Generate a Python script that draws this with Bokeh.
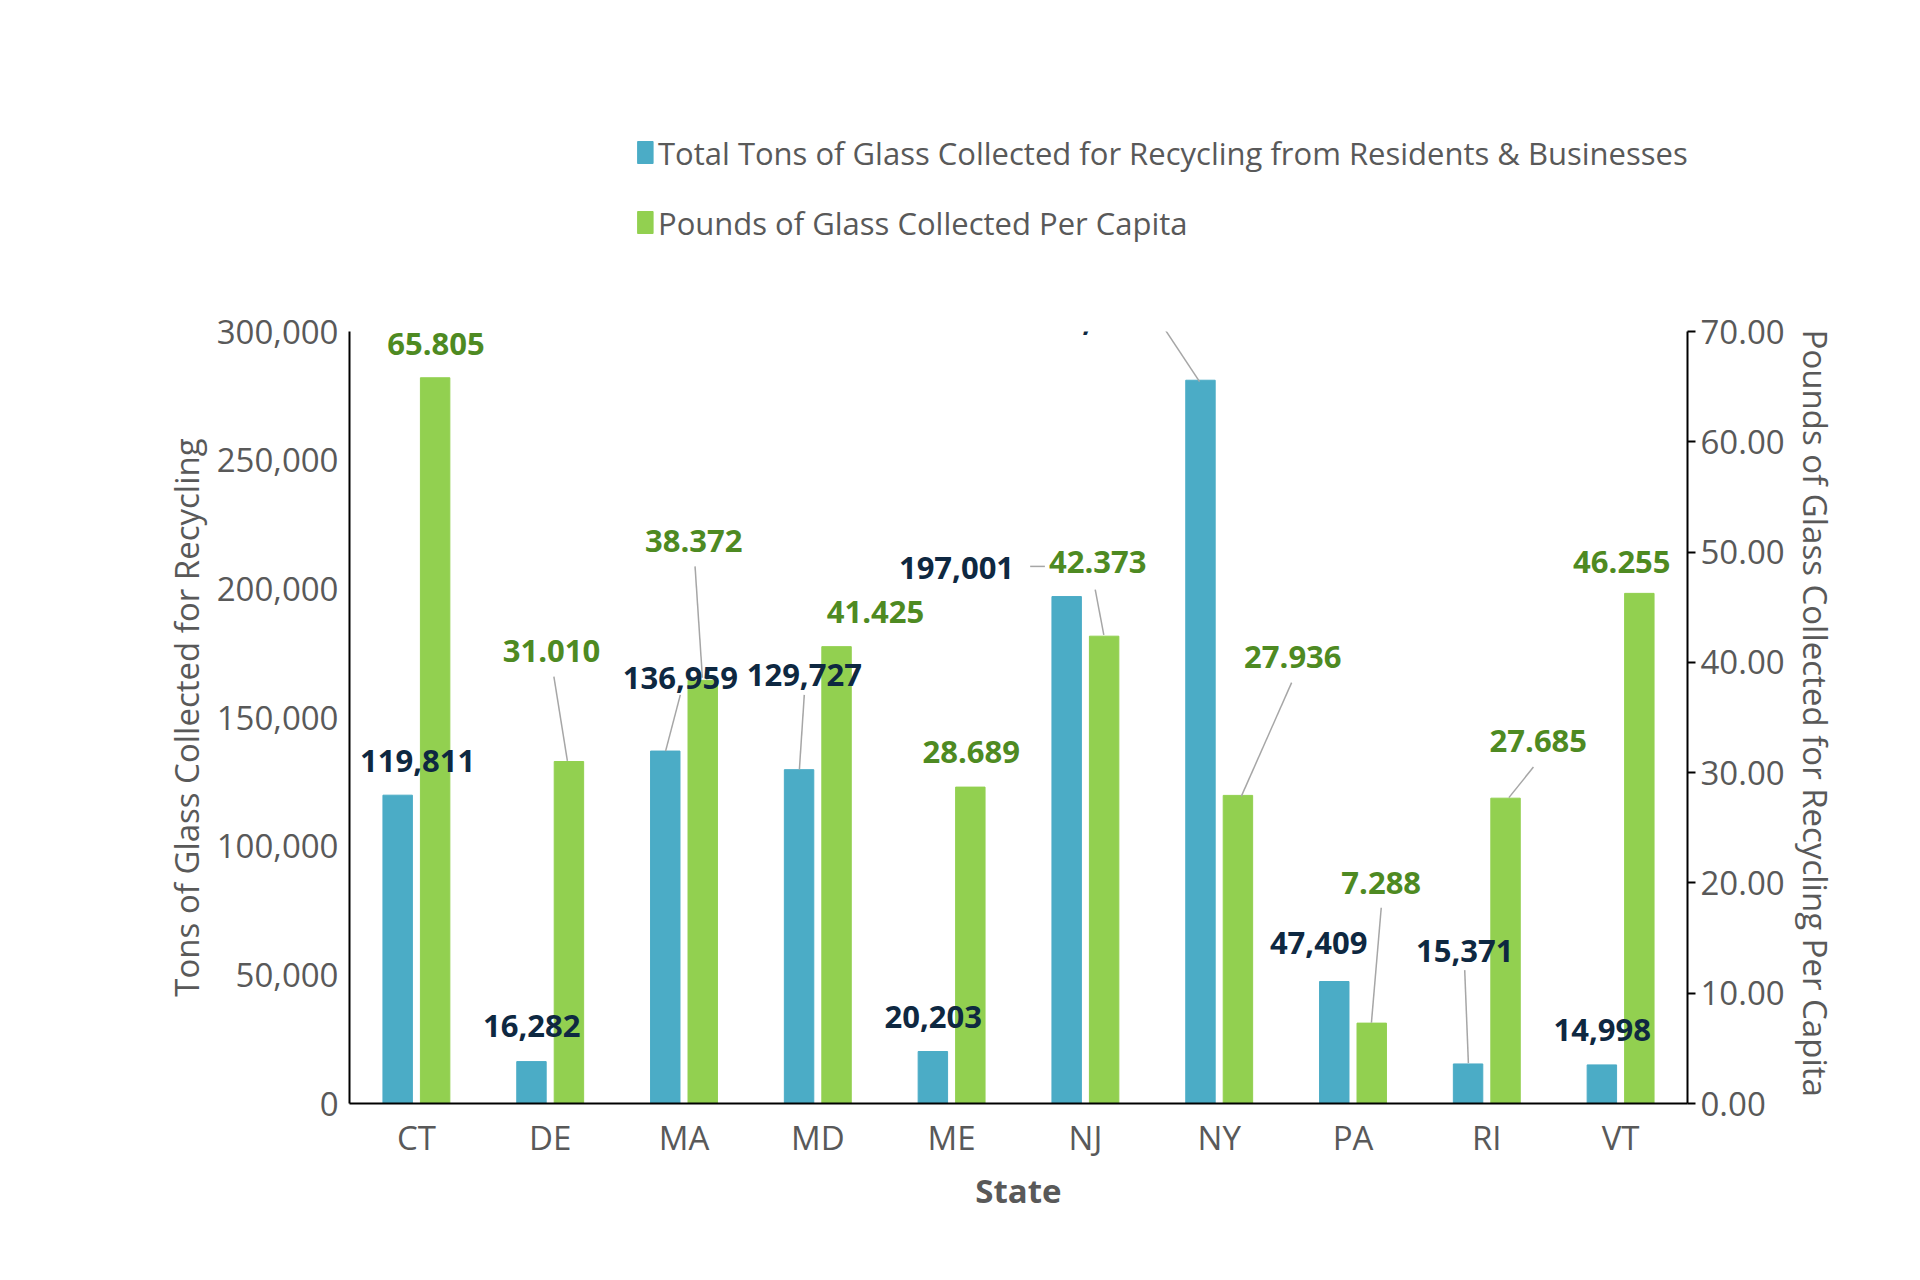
from bokeh.plotting import figure
from bokeh.layouts import column
from bokeh.models import (ColumnDataSource, Range1d, LinearAxis, NumeralTickFormatter,
                          FixedTicker, LabelSet, Arrow)
from bokeh.core.properties import value
from bokeh.embed import file_html
from bokeh.resources import INLINE

states = ["CT", "DE", "MA", "MD", "ME", "NJ", "NY", "PA", "RI", "VT"]
tons = [119811, 16282, 136959, 129727, 20203, 197001, 281065, 47409, 15371, 14998]
per_capita = [65.805, 31.010, 38.372, 41.425, 28.689, 42.373, 27.936, 7.288, 27.685, 46.255]
tons_labels = ["119,811", "16,282", "136,959", "129,727", "20,203", "197,001", "281,065", "47,409", "15,371", "14,998"]
pc_labels = ["65.805", "31.010", "38.372", "41.425", "28.689", "42.373", "27.936", "7.288", "27.685", "46.255"]
series_names = ["Total Tons of Glass Collected for Recycling from Residents & Businesses",
                "Pounds of Glass Collected Per Capita"]

BLUE = "#4BACC6"; GREEN = "#92D050"; NAVY = "#0E2841"; DGREEN = "#4E8A22"; GRAY = "#595959"
F = "Open Sans"

# label placement in reference-picture pixels (layout only)
def px2x(px): return (px - 340) / 109.0
def py2y(py): return (901 - py) * 300000 / 631.0
blue_lab_px = [(341,621),(434,838),(555,553),(656,551),(761,830),(780,463),(886,261),(1075,770),(1194,776),(1306,841)]
green_lab_px = [(356,280),(450,531),(566,441),(714,499),(792,614),(895,458),(1054,536),(1126,721),(1254,605),(1322,458)]
leaders_px = [(452,552,463,621),(555,567,543,613),(567,462,573,553),(656,567,652,628),(840,462,852,462),
              (893,481,900,518),(945,261,978,311),(1053,557,1012,650),(1126,741,1118,835),(1194,792,1197,868),
              (1250,626,1230,651)]

W = 1904
# legend figure
lg = figure(width=W, height=250, output_backend="svg", toolbar_location=None,
            x_range=Range1d(0, W), y_range=Range1d(250, 0), min_border=0)
lg.axis.visible = False; lg.grid.visible = False; lg.outline_line_color = None
lsrc = ColumnDataSource(dict(x=[421, 421], y=[152, 222], c=[BLUE, GREEN], t=series_names))
lg.rect(x="x", y="y", width=22, height=22, color="c", source=lsrc)
lg.text(x=[439, 439], y=[152, 222], text=series_names, text_baseline="middle", text_font=value(F),
        text_font_size="31px", text_color=GRAY)

p = figure(width=W, height=1014, output_backend="svg", toolbar_location=None,
           x_range=Range1d(-0.5, 9.5), y_range=Range1d(0, 300000),
           min_border_left=349, min_border_right=217, min_border_top=81, min_border_bottom=161)
p.extra_y_ranges = {"pc": Range1d(0, 70)}
p.grid.visible = False
p.outline_line_color = None

xs = list(range(len(states)))
src = ColumnDataSource(dict(xb=[x - 0.14 for x in xs], xg=[x + 0.14 for x in xs], tons=tons, pc=per_capita,
                            tl=tons_labels, gl=pc_labels,
                            bx=[px2x(a) for a, b in blue_lab_px], by=[py2y(b) for a, b in blue_lab_px],
                            gx=[px2x(a) for a, b in green_lab_px], gy=[py2y(b) for a, b in green_lab_px]))
p.vbar(x="xb", top="tons", width=0.22, color=BLUE, source=src)
p.vbar(x="xg", top="pc", width=0.22, color=GREEN, source=src, y_range_name="pc")

lsrc2 = ColumnDataSource(dict(x0=[px2x(l[0]) for l in leaders_px], y0=[py2y(l[1]) for l in leaders_px],
                              x1=[px2x(l[2]) for l in leaders_px], y1=[py2y(l[3]) for l in leaders_px]))
p.add_layout(Arrow(end=None, x_start="x0", y_start="y0", x_end="x1", y_end="y1", source=lsrc2,
                   line_color="#A6A6A6", line_width=1.5))
p.add_layout(LabelSet(x="bx", y="by", text="tl", source=src, text_align="center", text_baseline="middle",
                      text_font_size="31px", text_font_style="bold", text_color=NAVY, text_font=value(F)))
p.add_layout(LabelSet(x="gx", y="gy", text="gl", source=src, text_align="center", text_baseline="middle",
                      text_font_size="31px", text_font_style="bold", text_color=DGREEN, text_font=value(F)))

p.xaxis.ticker = FixedTicker(ticks=xs)
p.xaxis.major_label_overrides = {i: s for i, s in enumerate(states)}
p.xaxis.axis_label = "State"

p.yaxis.ticker = FixedTicker(ticks=list(range(0, 300001, 50000)))
p.yaxis.formatter = NumeralTickFormatter(format="0,0")
p.yaxis.axis_label = "Tons of Glass Collected for Recycling"

ax2 = LinearAxis(y_range_name="pc", ticker=FixedTicker(ticks=list(range(0, 71, 10))),
                 formatter=NumeralTickFormatter(format="0.00"),
                 axis_label="Pounds of Glass Collected for Recycling  Per Capita")
p.add_layout(ax2, "right")

for ax in p.axis:
    ax.axis_line_color = "black"; ax.axis_line_width = 2
    ax.minor_tick_line_color = None
    ax.major_label_text_font = F; ax.major_label_text_font_size = "33px"; ax.major_label_text_color = GRAY
    ax.axis_label_text_font = F; ax.axis_label_text_font_size = "33px"; ax.axis_label_text_color = GRAY
    ax.axis_label_text_font_style = "normal"
for ax in p.xaxis + p.yaxis:
    ax.major_tick_line_color = None
p.xaxis.axis_label_text_font_style = "bold"
ax2.major_tick_in = 0; ax2.major_tick_out = 8; ax2.major_tick_line_color = "black"; ax2.major_tick_line_width = 2

open("out.html", "w").write(file_html(column(lg, p, spacing=0), INLINE))
